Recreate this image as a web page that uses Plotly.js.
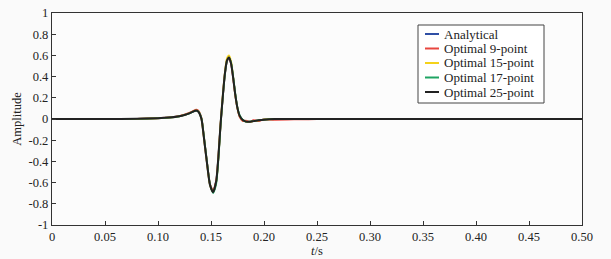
<!DOCTYPE html>
<html><head><meta charset="utf-8">
<script src="https://cdn.plot.ly/plotly-3.0.1.min.js"></script>
<style>html,body{margin:0;padding:0;background:#fafafa;}</style>
</head><body>
<div id="chart" style="width:611px;height:259px;"></div>
<script>
var time = [0, 0.05, 0.08, 0.10, 0.11, 0.12, 0.125, 0.13, 0.133, 0.136, 0.138, 0.141, 0.143, 0.146, 0.149, 0.152, 0.155, 0.157, 0.159, 0.161, 0.163, 0.165, 0.167, 0.169, 0.171, 0.173, 0.175, 0.177, 0.180, 0.183, 0.187, 0.19, 0.195, 0.2, 0.21, 0.25, 0.5];
var analytical = [0,0,0.002,0.007,0.013,0.025,0.038,0.056,0.07,0.08,0.07,0,-0.15,-0.40,-0.62,-0.69,-0.58,-0.35,-0.05,0.20,0.42,0.55,0.58,0.52,0.38,0.22,0.10,0.03,-0.01,-0.025,-0.025,-0.02,-0.012,-0.006,0,0,0];
var opt9 = [0,0,0.002,0.008,0.014,0.027,0.041,0.06,0.075,0.088,0.078,0.01,-0.14,-0.39,-0.61,-0.68,-0.58,-0.36,-0.06,0.19,0.41,0.54,0.575,0.52,0.38,0.22,0.10,0.02,-0.02,-0.015,-0.03,-0.01,-0.02,-0.004,-0.008,0,0];
var opt15 = [0,0,0.002,0.007,0.013,0.025,0.038,0.057,0.071,0.082,0.072,0.002,-0.15,-0.40,-0.62,-0.69,-0.59,-0.36,-0.05,0.21,0.43,0.57,0.60,0.54,0.39,0.22,0.10,0.03,-0.01,-0.025,-0.025,-0.02,-0.012,-0.006,0,0,0];
var opt17 = [0,0,0.002,0.007,0.013,0.025,0.037,0.055,0.069,0.079,0.072,0.01,-0.13,-0.38,-0.61,-0.70,-0.61,-0.39,-0.08,0.18,0.40,0.54,0.58,0.53,0.40,0.24,0.11,0.04,-0.008,-0.025,-0.025,-0.02,-0.012,-0.006,0,0,0];
var opt25 = [0,0,0.002,0.007,0.013,0.025,0.038,0.056,0.07,0.08,0.07,0,-0.15,-0.40,-0.62,-0.69,-0.58,-0.35,-0.05,0.20,0.42,0.55,0.58,0.52,0.38,0.22,0.10,0.03,-0.01,-0.025,-0.025,-0.02,-0.012,-0.006,0,0,0];
var seriesNames = ["Analytical", "Optimal 9-point", "Optimal 15-point", "Optimal 17-point", "Optimal 25-point"];
var xTickVals = [0, 0.05, 0.10, 0.15, 0.20, 0.25, 0.30, 0.35, 0.40, 0.45, 0.50];
var xTickText = ["0", "0.05", "0.10", "0.15", "0.20", "0.25", "0.30", "0.35", "0.40", "0.45", "0.50"];
var yTickVals = [-1, -0.8, -0.6, -0.4, -0.2, 0, 0.2, 0.4, 0.6, 0.8, 1];
var yTickText = ["-1", "-0.8", "-0.6", "-0.4", "-0.2", "0", "0.2", "0.4", "0.6", "0.8", "1"];

var colors = ["#2f4fa5", "#e8463f", "#f4d21a", "#1fa463", "#222222"];
var widths = [1.8, 1.8, 1.8, 1.6, 2];
var ys = [analytical, opt9, opt15, opt17, opt25];
var traces = ys.map(function(y, i){
  return {x: time, y: y, name: seriesNames[i], type: 'scatter', mode: 'lines',
    line: {color: colors[i], width: widths[i], shape: 'spline', smoothing: 0.6}};
});
var fam = '"Liberation Serif", "Times New Roman", serif';
var font = {family: fam, size: 12, color: '#222'};

// custom compact legend (pixel layout converted to paper coords)
var M = {l: 52, r: 29, t: 13, b: 34};
var PW = 611 - M.l - M.r, PH = 259 - M.t - M.b;
function px(x){ return (x - M.l) / PW; }
function py(y){ return (259 - M.b - y) / PH; }
var shapes = [{type: 'rect', xref: 'paper', yref: 'paper', x0: px(418), x1: px(544), y0: py(103), y1: py(25),
  fillcolor: '#ffffff', line: {color: '#444', width: 1}, layer: 'above'}];
var annotations = [];
var rowY = [34, 48.5, 63, 77.5, 92];
seriesNames.forEach(function(n, i){
  shapes.push({type: 'line', xref: 'paper', yref: 'paper', x0: px(425), x1: px(439), y0: py(rowY[i]), y1: py(rowY[i]),
    line: {color: colors[i], width: 2}, layer: 'above'});
  annotations.push({xref: 'paper', yref: 'paper', x: px(442), y: py(rowY[i]), xanchor: 'left', yanchor: 'middle',
    text: n, showarrow: false, font: {family: fam, size: 13, color: '#222'}});
});

var layout = {
  width: 611, height: 259,
  margin: M,
  paper_bgcolor: '#fafafa', plot_bgcolor: '#fcfcfc',
  font: font,
  showlegend: false,
  shapes: shapes, annotations: annotations,
  xaxis: {range: [0, 0.5], tickvals: xTickVals, ticktext: xTickText, ticks: 'inside', ticklen: 4,
    tickcolor: '#333', showline: true, linecolor: '#333', linewidth: 1.2, mirror: true,
    showgrid: false, zeroline: false, tickfont: {family: fam, size: 12.5, color: '#222'},
    title: {text: '<i>t</i>/s', font: {family: fam, size: 12.5, color: '#222'}, standoff: 3}},
  yaxis: {range: [-1, 1], tickvals: yTickVals, ticktext: yTickText, ticks: 'inside', ticklen: 4,
    tickcolor: '#333', showline: true, linecolor: '#333', linewidth: 1.2, mirror: true,
    showgrid: false, zeroline: false, tickfont: {family: fam, size: 12.5, color: '#222'},
    title: {text: 'Amplitude', font: {family: fam, size: 12.5, color: '#222'}, standoff: 4}}
};
Plotly.newPlot('chart', traces, layout, {displayModeBar: false, staticPlot: true});
</script>
</body></html>
